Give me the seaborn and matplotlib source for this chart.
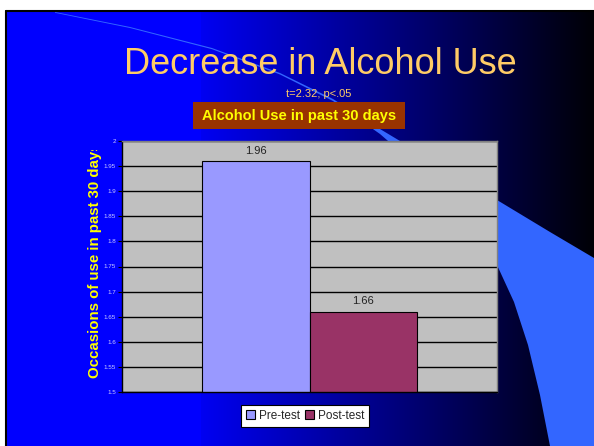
import numpy as np
import pandas as pd
import matplotlib
matplotlib.use("Agg")
import matplotlib.pyplot as plt
import seaborn as sns
from matplotlib.patches import Polygon, Rectangle

groups = ["Pre-test", "Post-test"]
values = [1.96, 1.66]
colors = ["#9999FF", "#993366"]
yticks = [1.5, 1.55, 1.6, 1.65, 1.7, 1.75, 1.8, 1.85, 1.9, 1.95, 2.0]
ytick_labels = ["1.5", "1.55", "1.6", "1.65", "1.7", "1.75", "1.8", "1.85", "1.9", "1.95", "2"]

sns.set_theme(style="white")
plt.rcParams["font.family"] = ["Liberation Sans", "DejaVu Sans"]

W, H = 594, 446
fig = plt.figure(figsize=(W / 100, H / 100), dpi=100)
fig.patch.set_facecolor("white")

# background slide
bg = fig.add_axes([0, 0, 1, 1], zorder=0)
bg.axis("off")
xs = np.arange(6, W)
fade = np.clip((W - xs) / (W - 200.0), 0, 1)
grad = np.zeros((2, len(xs), 3))
grad[:, :, 2] = np.where(fade >= 1, 1.0, 0.02 + 0.93 * fade)
bg.imshow(grad, extent=[6, W, H, 11], aspect="auto", interpolation="bilinear")
upper = [(55, 12), (130, 27), (212, 48), (280, 73), (333, 99), (380, 129), (440, 165), (497, 200), (550, 232), (594, 258)]
lower = [(594, 446), (550, 446), (540, 395), (528, 345), (514, 302), (497, 265), (470, 226), (440, 190), (410, 160), (380, 134), (333, 101), (280, 74.5), (212, 49.2), (130, 28), (55, 12.8)]
bg.add_patch(Polygon(upper + lower, closed=True, facecolor="#3366FF", edgecolor="none"))
bg.plot([5.5, 5.5], [10.5, H], color="black", lw=1.5)
bg.plot([5.5, W], [10.5, 10.5], color="black", lw=1.5)
bg.set_xlim(0, W)
bg.set_ylim(H, 0)

# titles
fig.text(320 / W, 1 - 74 / H, "Decrease in Alcohol Use", ha="center", va="baseline",
         fontsize=26, color="#FFCC66")
fig.text(319 / W, 1 - 97 / H, "t=2.32, p<.05", ha="center", va="baseline",
         fontsize=8, color="#FFCC66")
fig.patches.append(Rectangle((193 / W, 1 - 129 / H), 212 / W, 27 / H, transform=fig.transFigure,
                             facecolor="#993300", edgecolor="none", zorder=1))
fig.text(299 / W, 1 - 116 / H, "Alcohol Use in past 30 days", ha="center", va="center",
         fontsize=10.5, fontweight="bold", color="#FFFF00", zorder=2)

# chart
ax = fig.add_axes([122 / W, 1 - 392 / H, 375 / W, 251 / H], zorder=2)
df = pd.DataFrame({"group": groups, "value": values})
sns.barplot(data=df, x="group", y="value", hue="group", palette=colors, width=1.0,
            saturation=1, edgecolor="black", linewidth=0.8, legend=False, ax=ax)
ax.set_facecolor("#C0C0C0")
ax.set_xlim(-1.25, 2.25)
ax.set_ylim(1.5, 2.0)
ax.set_yticks(yticks)
ax.set_yticklabels(ytick_labels)
ax.yaxis.grid(True, color="black", lw=1)
ax.set_axisbelow(True)
ax.set_xticks([])
ax.set_xlabel("")
ax.set_ylabel("")
ax.tick_params(axis="y", which="major", length=3, width=0.8, color="black", direction="out",
               labelsize=4.5, labelcolor="#CCCCFF", pad=1.5, left=True)
for s in ["left", "bottom"]:
    ax.spines[s].set_color("black")
    ax.spines[s].set_linewidth(1)
for s in ["top", "right"]:
    ax.spines[s].set_color("#808080")
    ax.spines[s].set_linewidth(1)
for c in ax.containers:
    ax.bar_label(c, labels=[f"{v:.2f}" for v in c.datavalues], padding=4,
                 fontsize=8, color="#222222")

# y label (clipped at top as in the original)
yl = fig.text(95 / W, 1 - 378 / H, "Occasions of use in past 30 days", rotation=90,
              ha="center", va="bottom", fontsize=10.8, fontweight="bold", color="#FFFF00", zorder=3)
clip = Rectangle((0, 0), 1, 1 - 150 / H, transform=fig.transFigure, facecolor="none", edgecolor="none")
fig.patches.append(clip)
yl.set_clip_path(clip)

# legend
handles = [Rectangle((0, 0), 1, 1, facecolor=c, edgecolor="black", lw=0.8) for c in colors]
leg = fig.legend(handles, groups, loc="center", bbox_to_anchor=(305 / W, 1 - 416 / H),
                 ncol=2, fontsize=8.5, frameon=True, fancybox=False, handlelength=0.8,
                 handleheight=0.8, handletextpad=0.3, columnspacing=0.4, borderpad=0.45)
leg.get_frame().set_facecolor("white")
leg.get_frame().set_edgecolor("black")
leg.get_frame().set_linewidth(0.8)
leg.get_frame().set_alpha(1)

fig.savefig("out.png", dpi=100)
